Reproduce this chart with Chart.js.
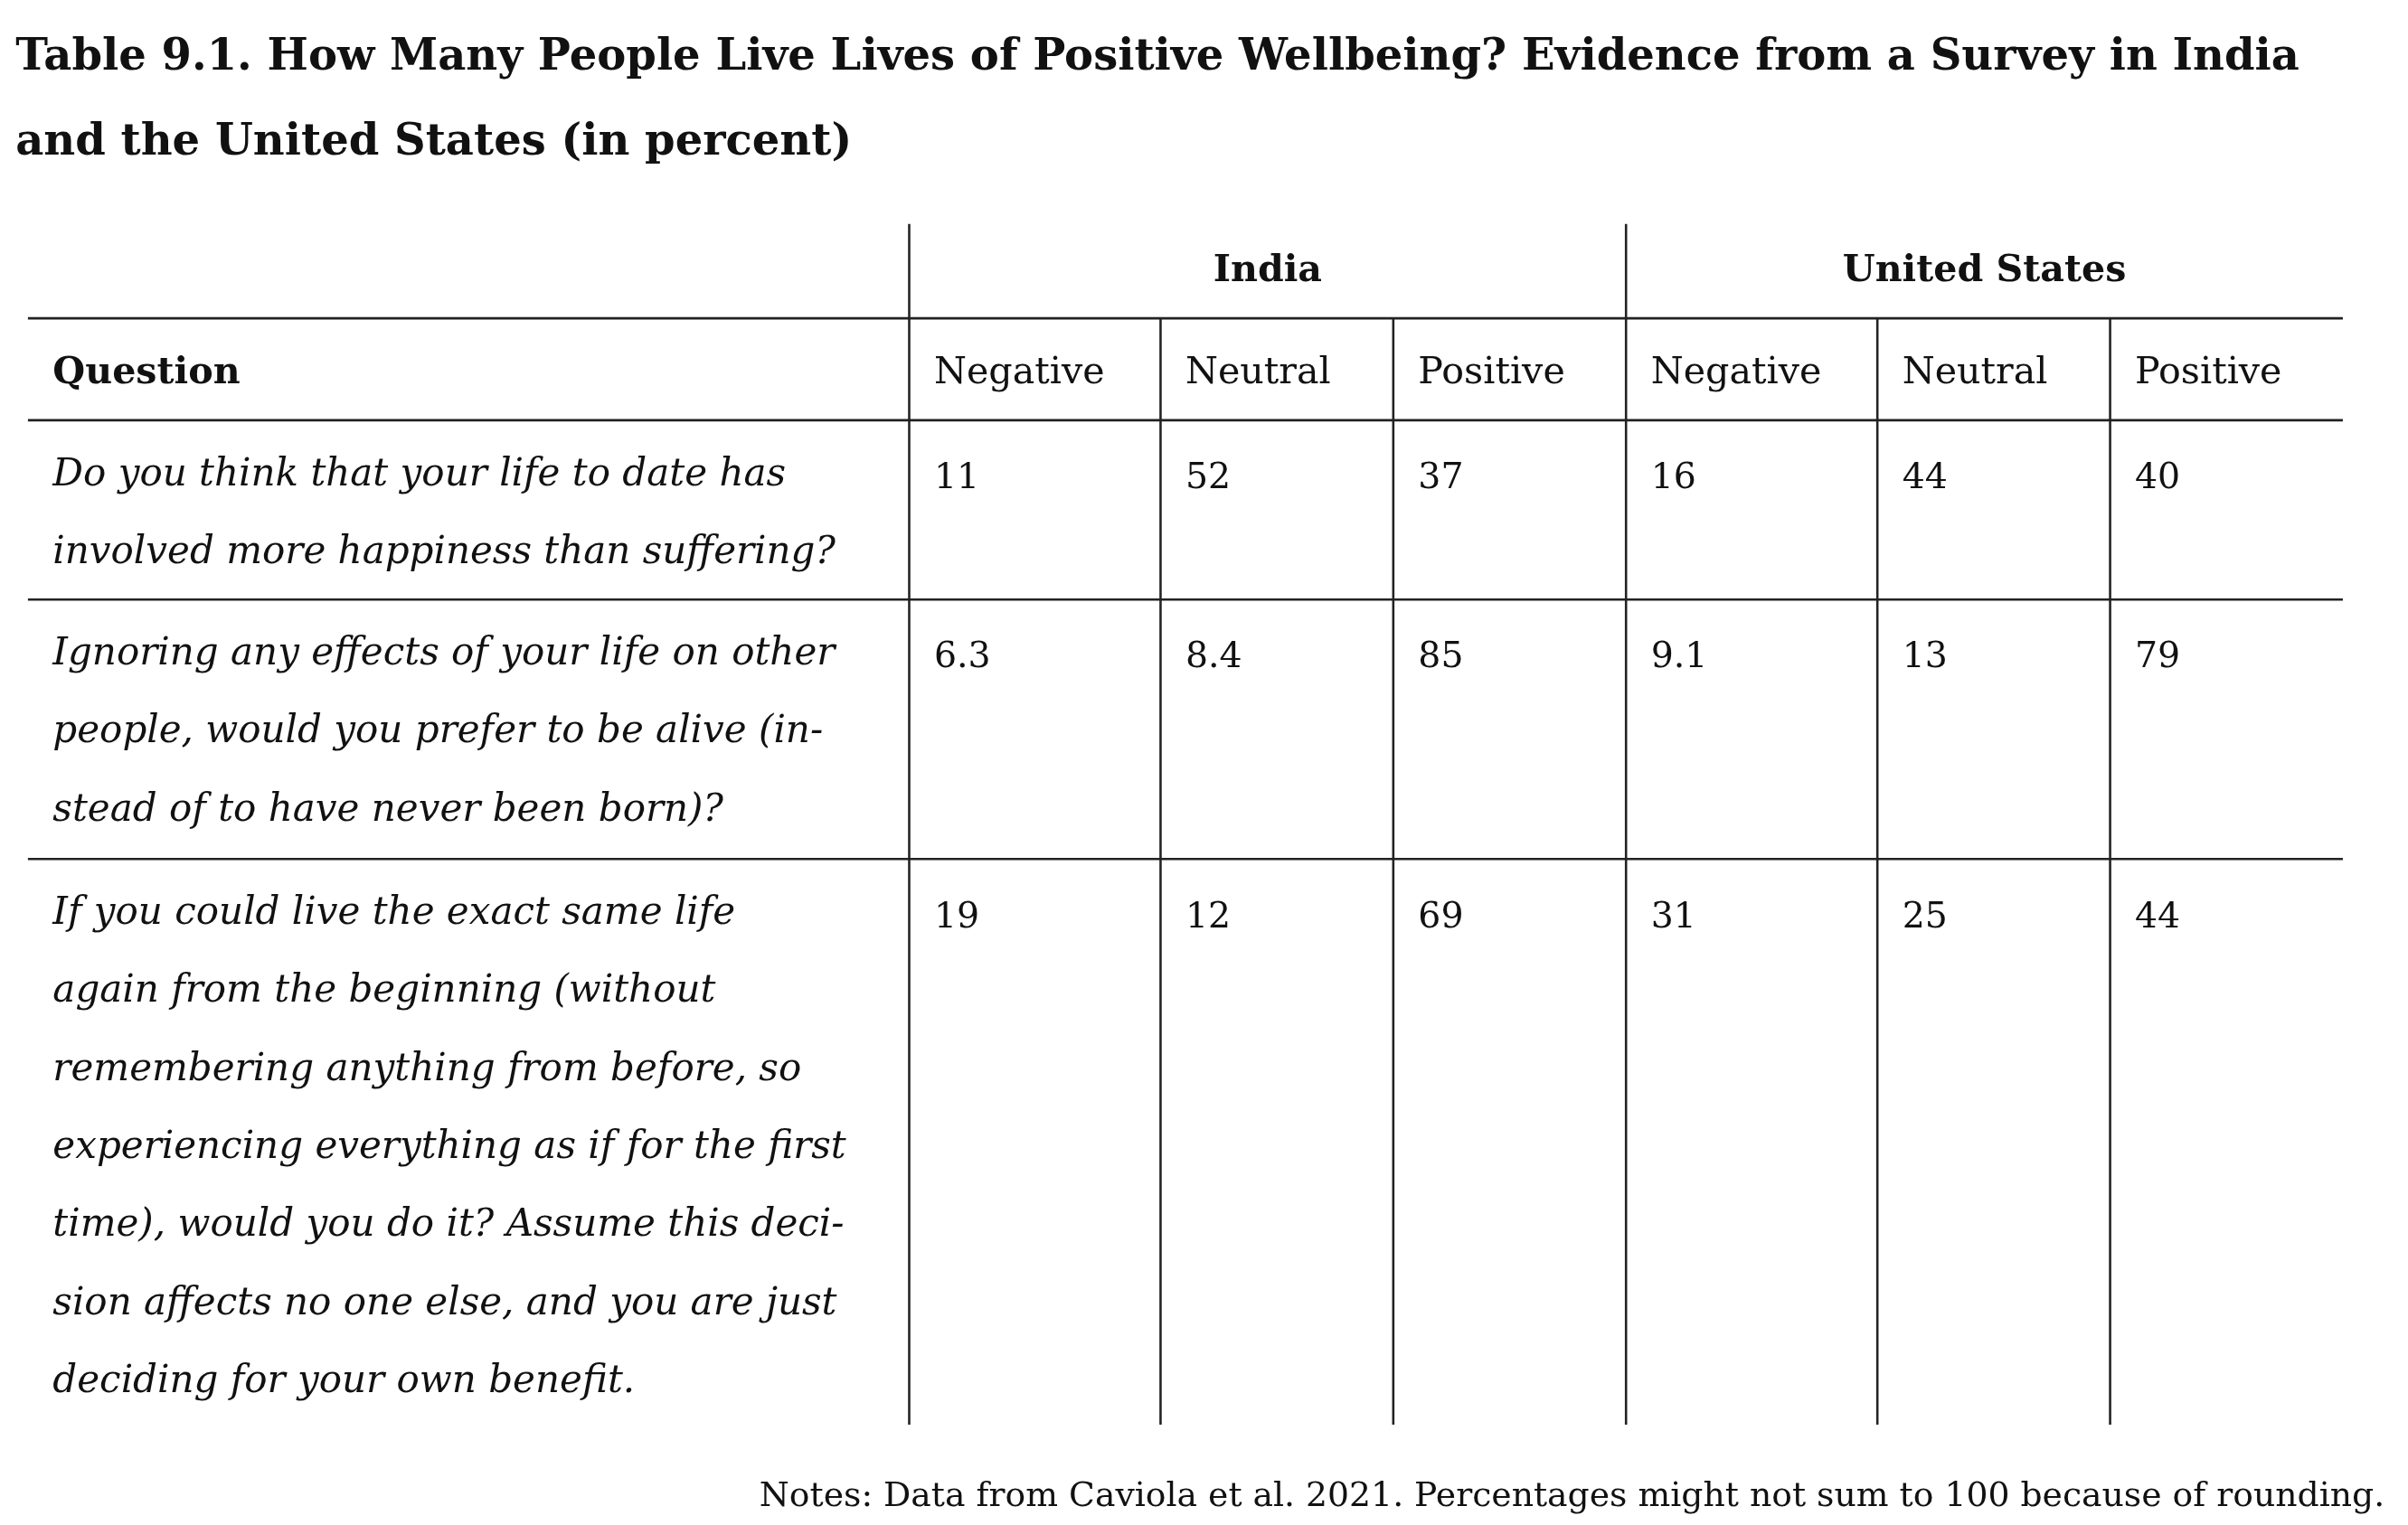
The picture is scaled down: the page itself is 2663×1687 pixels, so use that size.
<!DOCTYPE html>
<html>
<head>
<meta charset="UTF-8">
<title>Table 9.1</title>
<script src="https://cdn.jsdelivr.net/npm/chart.js@4"></script>
<style>body{margin:0;background:#fff}</style>
</head>
<body>
<canvas id="myChart" width="2663" height="1687"></canvas>
<script>
const title = ['Table 9.1. How Many People Live Lives of Positive Wellbeing? Evidence from a Survey in India',
               'and the United States (in percent)'];
const countries = ['India', 'United States'];
const categories = ['Negative', 'Neutral', 'Positive'];
const questions = [
  ['Do you think that your life to date has', 'involved more happiness than suffering?'],
  ['Ignoring any effects of your life on other', 'people, would you prefer to be alive (in-', 'stead of to have never been born)?'],
  ['If you could live the exact same life', 'again from the beginning (without', 'remembering anything from before, so',
   'experiencing everything as if for the first', 'time), would you do it? Assume this deci-',
   'sion affects no one else, and you are just', 'deciding for your own benefit.']
];
const india = [['11', '52', '37'], ['6.3', '8.4', '85'], ['19', '12', '69']];
const unitedStates = [['16', '44', '40'], ['9.1', '13', '79'], ['31', '25', '44']];
const note = 'Notes: Data from Caviola et al. 2021. Percentages might not sum to 100 because of rounding.';

// layout grid (in reference units)
const colEdges = [18, 586, 748, 898, 1048, 1210, 1360, 1510];
const rowEdges = [272, 388, 556, 922];

const tablePlugin = {
  id: 'table',
  afterDraw(chart) {
    const ctx = chart.ctx, x = chart.scales.x, y = chart.scales.y;
    const px = v => x.getPixelForValue(v), py = v => y.getPixelForValue(v);
    const k = chart.width / 1552;
    const serif = '"DejaVu Serif", serif';
    ctx.save();
    ctx.fillStyle = '#111';
    ctx.textBaseline = 'alphabetic';
    ctx.font = 'bold ' + (28 * k) + 'px ' + serif;
    title.forEach((t, i) => ctx.fillText(t, px(10), py(45 + i * 55)));

    // lines
    ctx.strokeStyle = '#222';
    ctx.lineWidth = 1.5 * k;
    const hl = (x0, x1, yy) => { ctx.beginPath(); ctx.moveTo(px(x0), py(yy)); ctx.lineTo(px(x1), py(yy)); ctx.stroke(); };
    const vl = (xx, y0, y1) => { ctx.beginPath(); ctx.moveTo(px(xx), py(y0)); ctx.lineTo(px(xx), py(y1)); ctx.stroke(); };
    hl(18, 1510, 206);
    rowEdges.slice(0, 3).forEach(r => hl(18, 1510, r));
    vl(586, 145, 922); vl(1048, 145, 922);
    [748, 898, 1210, 1360].forEach(c => vl(c, 206, 922));

    // group headers
    ctx.textAlign = 'center';
    ctx.font = 'bold ' + (24 * k) + 'px ' + serif;
    countries.forEach((c, i) => ctx.fillText(c, px((colEdges[1 + 3 * i] + colEdges[4 + 3 * i]) / 2), py(182)));
    ctx.textAlign = 'left';
    ctx.fillText('Question', px(34), py(248));
    ctx.font = (24 * k) + 'px ' + serif;
    for (let g = 0; g < 2; g++)
      categories.forEach((c, i) => ctx.fillText(c, px(colEdges[1 + g * 3 + i] + 16), py(248)));

    // rows
    questions.forEach((q, r) => {
      const top = rowEdges[r];
      ctx.font = 'italic ' + (24.5 * k) + 'px ' + serif;
      q.forEach((line, j) => ctx.fillText(line, px(34), py(top + 42 + j * 50.5)));
      ctx.font = (23 * k) + 'px ' + serif;
      india[r].concat(unitedStates[r]).forEach((v, i) => ctx.fillText(v, px(colEdges[1 + i] + 16), py(top + 44)));
    });

    ctx.textAlign = 'right';
    ctx.font = (22 * k) + 'px ' + serif;
    ctx.fillText(note, px(1537), py(975));
    ctx.restore();
  }
};

new Chart(document.getElementById('myChart').getContext('2d'), {
  type: 'scatter',
  data: { datasets: [] },
  options: {
    responsive: false,
    animation: false,
    devicePixelRatio: 1,
    layout: { padding: 0 },
    plugins: { legend: { display: false }, tooltip: { enabled: false } },
    scales: {
      x: { type: 'linear', min: 0, max: 1552, display: false },
      y: { type: 'linear', min: 0, max: 987, reverse: true, display: false }
    }
  },
  plugins: [tablePlugin]
});
</script>
</body>
</html>
